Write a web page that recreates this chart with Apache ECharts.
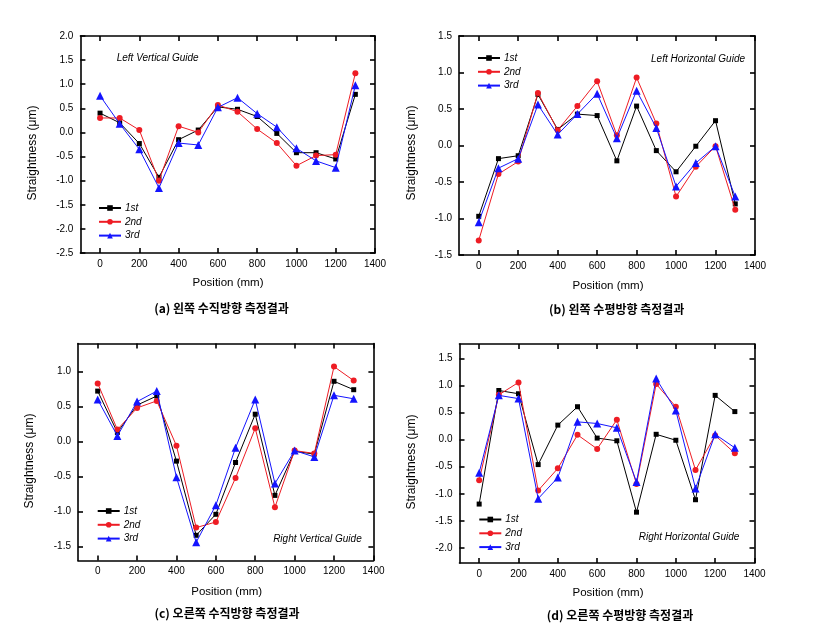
<!DOCTYPE html>
<html>
<head>
<meta charset="utf-8">
<script src="https://cdn.jsdelivr.net/npm/echarts@6/dist/echarts.min.js"></script>
<style>html,body{margin:0;padding:0;background:#fff}#c{width:819px;height:628px}</style>
</head>
<body>
<div id="c"></div>
<script>
// ---- data ----
const positions = [0,100,200,300,400,500,600,700,800,900,1000,1100,1200,1300];
const xTicks = [0,200,400,600,800,1000,1200,1400];
const seriesNames = ['1st','2nd','3rd'];

// (a) Left Vertical Guide
const a1st = [0.40,0.20,-0.23,-0.93,-0.15,0.05,0.53,0.48,0.33,-0.02,-0.42,-0.42,-0.55,0.79];
const a2nd = [0.30,0.30,0.05,-1.00,0.13,0.00,0.57,0.43,0.07,-0.22,-0.69,-0.48,-0.46,1.23];
const a3rd = [0.76,0.18,-0.35,-1.15,-0.22,-0.26,0.52,0.72,0.39,0.11,-0.33,-0.59,-0.73,0.98];
// (b) Left Horizontal Guide
const b1st = [-0.97,-0.18,-0.14,0.70,0.22,0.43,0.41,-0.21,0.54,-0.07,-0.36,-0.01,0.34,-0.80];
const b2nd = [-1.30,-0.39,-0.22,0.72,0.21,0.54,0.88,0.14,0.93,0.30,-0.70,-0.29,-0.01,-0.88];
const b3rd = [-1.05,-0.31,-0.18,0.56,0.15,0.43,0.71,0.10,0.75,0.24,-0.56,-0.24,-0.01,-0.70];
// (c) Right Vertical Guide
const c1st = [0.72,0.13,0.52,0.65,-0.28,-1.34,-1.04,-0.30,0.39,-0.77,-0.14,-0.18,0.86,0.74];
const c2nd = [0.83,0.17,0.48,0.58,-0.06,-1.23,-1.15,-0.52,0.19,-0.94,-0.13,-0.17,1.07,0.87];
const c3rd = [0.60,0.08,0.57,0.72,-0.51,-1.44,-0.91,-0.09,0.60,-0.60,-0.13,-0.22,0.66,0.61];
// (d) Right Horizontal Guide
const d1st = [-1.19,0.91,0.85,-0.46,0.27,0.61,0.03,-0.02,-1.34,0.10,-0.01,-1.11,0.82,0.52];
const d2nd = [-0.75,0.83,1.06,-0.94,-0.53,0.09,-0.17,0.37,-0.82,1.03,0.61,-0.56,0.08,-0.25];
const d3rd = [-0.61,0.82,0.76,-1.09,-0.70,0.33,0.30,0.22,-0.78,1.13,0.54,-0.90,0.10,-0.15];

const yTicksA = [-2.5,-2.0,-1.5,-1.0,-0.5,0.0,0.5,1.0,1.5,2.0];
const yTicksB = [-1.5,-1.0,-0.5,0.0,0.5,1.0,1.5];
const yTicksC = [-1.5,-1.0,-0.5,0.0,0.5,1.0];
const yTicksD = [-2.0,-1.5,-1.0,-0.5,0.0,0.5,1.0,1.5];
const yRangeA = [-2.5, 2.0];
const yRangeB = [-1.5, 1.5];
const yRangeC = [-1.7, 1.4];
const yRangeD = [-2.28, 1.77];
const xRange = [-100, 1400];

const guideNames = ['Left Vertical Guide','Left Horizontal Guide','Right Vertical Guide','Right Horizontal Guide'];
const captions = ['(a) 왼쪽 수직방향 측정결과','(b) 왼쪽 수평방향 측정결과','(c) 오른쪽 수직방향 측정결과','(d) 오른쪽 수평방향 측정결과'];
const xTitle = 'Position (mm)';
const yTitle = 'Straightness (μm)';

// ---- layout ----
const panels = [
  {grid:{left:80.4, top:36, width:294.6, height:217}, y:yRangeA, yt:yTicksA, data:[a1st,a2nd,a3rd],
   legend:{left:98, top:203}, guide:{x:116.7, y:58.7, align:'left'},
   xt:{x:228, y:283}, yTitle:{x:32.7, y:153}, cap:{x:221.5, y:308.3}},
  {grid:{left:459, top:36, width:296, height:219}, y:yRangeB, yt:yTicksB, data:[b1st,b2nd,b3rd],
   legend:{left:477, top:53}, guide:{x:745, y:59.3, align:'right'},
   xt:{x:608, y:286}, yTitle:{x:411.7, y:153}, cap:{x:616.7, y:309}},
  {grid:{left:78, top:343.5, width:295.4, height:217}, y:yRangeC, yt:yTicksC, data:[c1st,c2nd,c3rd],
   legend:{left:96.7, top:506}, guide:{x:361.7, y:539.3, align:'right'},
   xt:{x:226.7, y:591.7}, yTitle:{x:30, y:461}, cap:{x:227, y:613.3}},
  {grid:{left:459.5, top:344, width:295, height:219}, y:yRangeD, yt:yTicksD, data:[d1st,d2nd,d3rd],
   legend:{left:478.3, top:514.5}, guide:{x:739.3, y:537.7, align:'right'},
   xt:{x:608, y:593.3}, yTitle:{x:411.7, y:462}, cap:{x:620, y:615.7}}
];

const styles = [
  {color:'#000000', symbol:'rect', size:5},
  {color:'#ee1c24', symbol:'circle', size:6},
  {color:'#1414ff', symbol:'triangle', size:8}
];

const font = 'Liberation Sans, Arial, sans-serif';
const lineW = 1.6;
const grids = [], xAxes = [], yAxes = [], series = [], legends = [], graphics = [];

panels.forEach((p, gi) => {
  grids.push(Object.assign({containLabel:false}, p.grid));
  const xi = xAxes.length, yi = yAxes.length;
  // bottom x axis
  xAxes.push({type:'value', gridIndex:gi, position:'bottom', min:xRange[0], max:xRange[1],
    axisLine:{show:true, onZero:false, lineStyle:{color:'#000', width:lineW}},
    axisTick:{show:true, inside:true, length:5, lineStyle:{color:'#000', width:lineW}, customValues:xTicks},
    axisLabel:{show:true, customValues:xTicks, margin:6, color:'#000', fontSize:10, fontFamily:font,
      formatter:v => String(v)},
    splitLine:{show:false}});
  // top x axis (box + ticks)
  xAxes.push({type:'value', gridIndex:gi, position:'top', min:xRange[0], max:xRange[1],
    axisLine:{show:true, onZero:false, lineStyle:{color:'#000', width:lineW}},
    axisTick:{show:true, inside:true, length:5, lineStyle:{color:'#000', width:lineW}, customValues:xTicks},
    axisLabel:{show:false}, splitLine:{show:false}});
  // left y axis
  yAxes.push({type:'value', gridIndex:gi, position:'left', min:p.y[0], max:p.y[1],
    axisLine:{show:true, onZero:false, lineStyle:{color:'#000', width:lineW}},
    axisTick:{show:true, inside:true, length:5, lineStyle:{color:'#000', width:lineW}, customValues:p.yt},
    axisLabel:{show:true, customValues:p.yt, margin:7, color:'#000', fontSize:10, fontFamily:font,
      formatter:v => Number(v).toFixed(1)},
    splitLine:{show:false}});
  // right y axis
  yAxes.push({type:'value', gridIndex:gi, position:'right', min:p.y[0], max:p.y[1],
    axisLine:{show:true, onZero:false, lineStyle:{color:'#000', width:lineW}},
    axisTick:{show:true, inside:true, length:5, lineStyle:{color:'#000', width:lineW}, customValues:p.yt},
    axisLabel:{show:false}, splitLine:{show:false}});

  p.data.forEach((arr, si) => {
    const st = styles[si];
    series.push({
      type:'line', name:seriesNames[si], xAxisIndex:xi, yAxisIndex:yi,
      data: positions.map((x, i) => [x, arr[i]]),
      symbol:st.symbol, symbolSize:st.size, showAllSymbol:true,
      lineStyle:{color:st.color, width:1}, itemStyle:{color:st.color, borderWidth:0},
      emphasis:{disabled:true}, animation:false, z:3 + si
    });
  });

  legends.push({
    orient:'vertical', left:p.legend.left, top:p.legend.top, padding:0,
    itemWidth:22, itemHeight:7, itemGap:3.8,
    data:seriesNames,
    textStyle:{fontSize:10, fontStyle:'italic', fontFamily:font, color:'#000', lineHeight:10, padding:[0,0,0,-1]},
    selectedMode:false
  });

  graphics.push({type:'text', x:p.guide.x, y:p.guide.y, style:{text:guideNames[gi], fontSize:10,
    fontStyle:'italic', fontFamily:font, fill:'#000', align:p.guide.align, verticalAlign:'middle'}});
  graphics.push({type:'text', x:p.xt.x, y:p.xt.y, style:{text:xTitle, fontSize:11.5, fontFamily:font,
    fill:'#000', align:'center', verticalAlign:'middle'}});
  graphics.push({type:'text', x:p.yTitle.x, y:p.yTitle.y, rotation:Math.PI/2, style:{text:yTitle, fontSize:12,
    fontFamily:font, fill:'#000', align:'center', verticalAlign:'middle'}});
  graphics.push({type:'text', x:p.cap.x, y:p.cap.y, style:{text:captions[gi], fontSize:12, fontWeight:'bold',
    fontFamily:'Noto Sans CJK KR, sans-serif', fill:'#000', align:'center', verticalAlign:'middle'}});
});

const chart = echarts.init(document.getElementById('c'), null, {renderer:'canvas'});
chart.setOption({
  backgroundColor:'#ffffff',
  animation:false,
  grid:grids, xAxis:xAxes, yAxis:yAxes, series:series, legend:legends,
  graphic:graphics
});
</script>
</body>
</html>
